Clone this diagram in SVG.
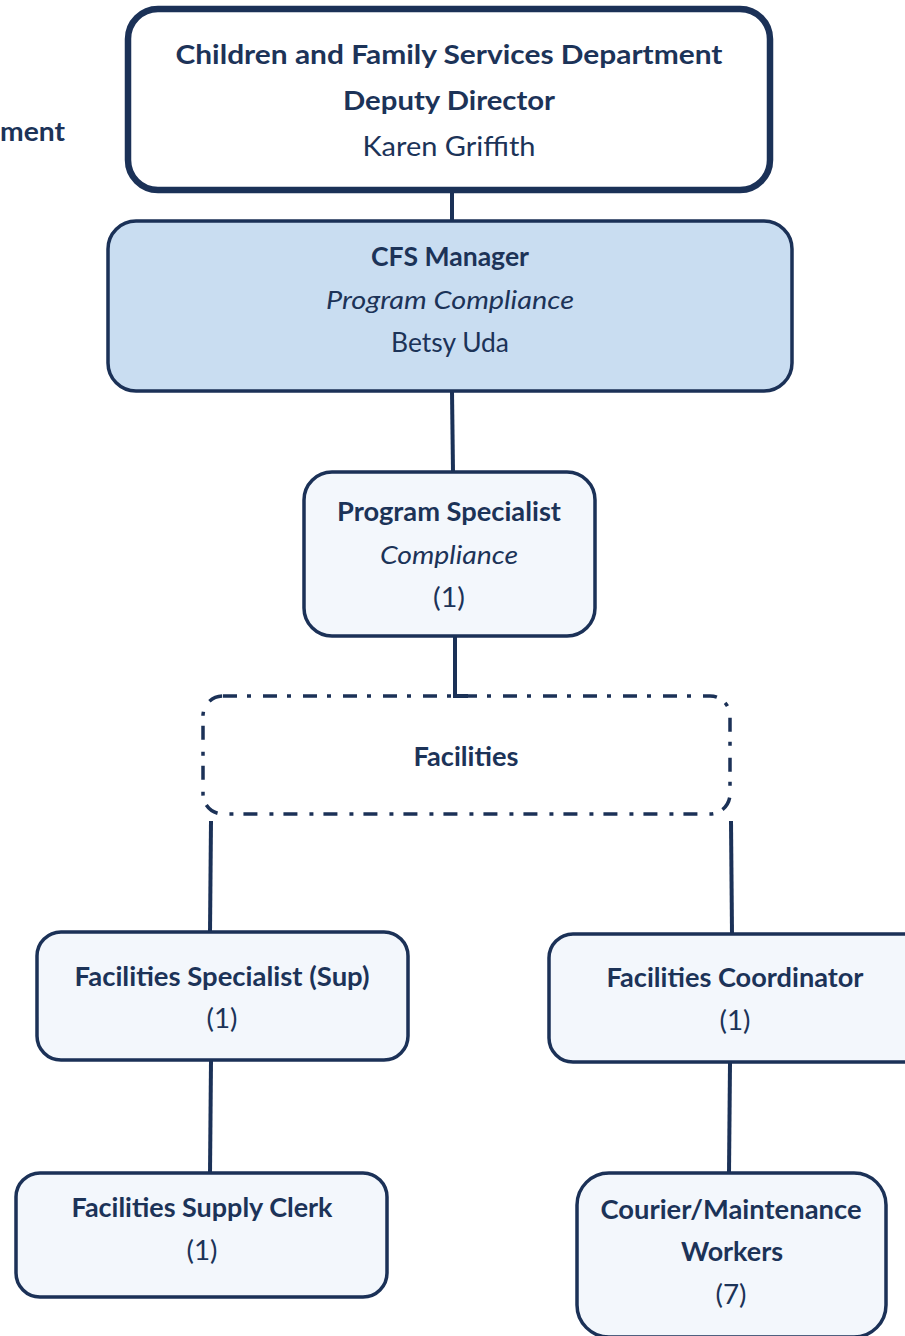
<svg xmlns="http://www.w3.org/2000/svg" width="905" height="1336" viewBox="0 0 905 1336">
<style>
.box{stroke:#1b3157;stroke-width:3.5;fill:#f3f7fc}
.t{font-family:Lato,"Open Sans","Liberation Sans",sans-serif;font-size:26px;fill:#1c3358;text-anchor:middle}
.b{font-weight:bold}
.i{font-style:italic}
.c{stroke:#1b3157;stroke-width:4;fill:none}
</style>
<rect width="905" height="1336" fill="#ffffff"/>
<text class="t b" x="65" y="141" style="text-anchor:end" textLength="65" lengthAdjust="spacingAndGlyphs">ment</text>
<g id="connectors">
<line class="c" x1="452" y1="190" x2="452" y2="222"/>
<line class="c" x1="452" y1="392" x2="453" y2="472"/>
<polyline class="c" points="455,637 455,696 468,696"/>
<line class="c" x1="211" y1="821" x2="210" y2="932"/>
<line class="c" x1="731" y1="821" x2="732" y2="934"/>
<line class="c" x1="211" y1="1061" x2="210" y2="1173"/>
<line class="c" x1="730" y1="1063" x2="729" y2="1173"/>
</g>
<g id="deputy-director">
<rect x="128" y="9" width="642" height="181" rx="30" fill="#ffffff" stroke="#1b3157" stroke-width="6.5"/>
<text class="t b" x="449" y="64" textLength="547" lengthAdjust="spacingAndGlyphs">Children and Family Services Department</text>
<text class="t b" x="449" y="110" textLength="212" lengthAdjust="spacingAndGlyphs">Deputy Director</text>
<text class="t" x="449" y="156" textLength="173" lengthAdjust="spacingAndGlyphs">Karen Griffith</text>
</g>
<g id="cfs-manager">
<rect class="box" x="108" y="221" width="684" height="170" rx="28" style="fill:#c9ddf1"/>
<text class="t b" x="450" y="266" textLength="158" lengthAdjust="spacingAndGlyphs">CFS Manager</text>
<text class="t i" x="450" y="309" textLength="248" lengthAdjust="spacingAndGlyphs">Program Compliance</text>
<text class="t" x="450" y="352" textLength="118" lengthAdjust="spacingAndGlyphs">Betsy Uda</text>
</g>
<g id="program-specialist">
<rect class="box" x="304" y="472" width="291" height="164" rx="28"/>
<text class="t b" x="449" y="521" textLength="224" lengthAdjust="spacingAndGlyphs">Program Specialist</text>
<text class="t i" x="449" y="564" textLength="138" lengthAdjust="spacingAndGlyphs">Compliance</text>
<text class="t" x="449" y="607" textLength="32" lengthAdjust="spacingAndGlyphs">(1)</text>
</g>
<g id="facilities">
<rect x="203" y="696" width="527" height="118" rx="20" fill="none" stroke="#1b3157" stroke-width="3.5" stroke-dasharray="14 10 4 12"/>
<text class="t b" x="466" y="766" textLength="105" lengthAdjust="spacingAndGlyphs">Facilities</text>
</g>
<g id="facilities-specialist">
<rect class="box" x="37" y="932" width="371" height="128" rx="24"/>
<text class="t b" x="222" y="986" textLength="295" lengthAdjust="spacingAndGlyphs">Facilities Specialist (Sup)</text>
<text class="t" x="222" y="1028" textLength="31" lengthAdjust="spacingAndGlyphs">(1)</text>
</g>
<g id="facilities-coordinator">
<rect class="box" x="549" y="934" width="380" height="128" rx="24"/>
<text class="t b" x="735" y="987" textLength="257" lengthAdjust="spacingAndGlyphs">Facilities Coordinator</text>
<text class="t" x="735" y="1030" textLength="31" lengthAdjust="spacingAndGlyphs">(1)</text>
</g>
<g id="facilities-supply-clerk">
<rect class="box" x="16" y="1173" width="371" height="124" rx="24"/>
<text class="t b" x="202" y="1217" textLength="261" lengthAdjust="spacingAndGlyphs">Facilities Supply Clerk</text>
<text class="t" x="202" y="1260" textLength="31" lengthAdjust="spacingAndGlyphs">(1)</text>
</g>
<g id="courier-maintenance">
<rect class="box" x="577" y="1173" width="309" height="164" rx="32"/>
<text class="t b" x="731" y="1219" textLength="261" lengthAdjust="spacingAndGlyphs">Courier/Maintenance</text>
<text class="t b" x="732" y="1261" textLength="102" lengthAdjust="spacingAndGlyphs">Workers</text>
<text class="t" x="731" y="1304" textLength="31" lengthAdjust="spacingAndGlyphs">(7)</text>
</g>
</svg>
